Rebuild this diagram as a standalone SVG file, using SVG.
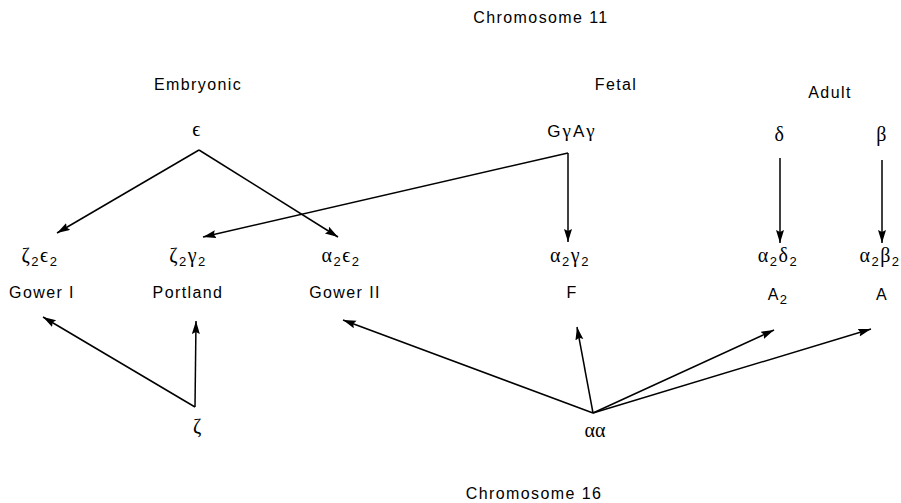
<svg xmlns="http://www.w3.org/2000/svg" width="901" height="503" viewBox="0 0 901 503">
  <style>
    .lbl { font-family: "Liberation Sans", Arial, sans-serif; font-size: 16px; letter-spacing: 1.4px; fill: #000; text-anchor: middle; }
    .gk { font-family: "Liberation Serif", "DejaVu Serif", serif; font-size: 20px; letter-spacing: 1.5px; fill: #000; text-anchor: middle; }
    .sub { font-family: "Liberation Sans", Arial, sans-serif; font-size: 13px; }
    .edge { stroke: #000; stroke-width: 1.5; fill: none; marker-end: url(#head); }
  </style>
  <defs>
    <marker id="head" markerUnits="userSpaceOnUse" markerWidth="14" markerHeight="10" refX="13" refY="4" orient="auto">
      <path d="M0,0 L13,4 L0,8 L2,4 Z" fill="#000"/>
    </marker>
  </defs>
  <rect width="901" height="503" fill="#fff"/>

  <!-- chromosome and stage headings -->
  <g id="chromosome-11"><text class="lbl" x="541" y="23">Chromosome 11</text></g>
  <g id="chromosome-16"><text class="lbl" x="534" y="499">Chromosome 16</text></g>
  <g id="stage-embryonic"><text class="lbl" x="198" y="90">Embryonic</text></g>
  <g id="stage-fetal"><text class="lbl" x="616" y="90">Fetal</text></g>
  <g id="stage-adult"><text class="lbl" x="830" y="98">Adult</text></g>

  <!-- globin genes -->
  <g id="gene-epsilon"><text class="gk" x="197" y="136">ϵ</text></g>
  <g id="gene-gamma"><text class="lbl" x="572" y="137" style="font-size:17px;letter-spacing:2px">G<tspan style="font-family:'Liberation Serif',serif;font-size:19px">γ</tspan>A<tspan style="font-family:'Liberation Serif',serif;font-size:19px">γ</tspan></text></g>
  <g id="gene-delta"><text class="gk" x="780" y="141">δ</text></g>
  <g id="gene-beta"><text class="gk" x="882" y="141">β</text></g>
  <g id="gene-zeta"><text class="gk" x="198" y="433">ζ</text></g>
  <g id="gene-alpha"><text class="gk" x="595" y="437" style="letter-spacing:0">αα</text></g>

  <!-- haemoglobin chains and names -->
  <g id="hb-gower1">
    <text class="gk" x="40" y="262">ζ<tspan class="sub" dy="4">2</tspan><tspan dy="-4">ϵ</tspan><tspan class="sub" dy="4">2</tspan></text>
    <text class="lbl" x="42" y="298">Gower I</text>
  </g>
  <g id="hb-portland">
    <text class="gk" x="188" y="262">ζ<tspan class="sub" dy="4">2</tspan><tspan dy="-4">γ</tspan><tspan class="sub" dy="4">2</tspan></text>
    <text class="lbl" x="188" y="298">Portland</text>
  </g>
  <g id="hb-gower2">
    <text class="gk" x="341" y="262">α<tspan class="sub" dy="4">2</tspan><tspan dy="-4">ϵ</tspan><tspan class="sub" dy="4">2</tspan></text>
    <text class="lbl" x="345" y="298">Gower II</text>
  </g>
  <g id="hb-f">
    <text class="gk" x="570" y="262">α<tspan class="sub" dy="4">2</tspan><tspan dy="-4">γ</tspan><tspan class="sub" dy="4">2</tspan></text>
    <text class="lbl" x="572" y="298">F</text>
  </g>
  <g id="hb-a2">
    <text class="gk" x="778" y="262">α<tspan class="sub" dy="4">2</tspan><tspan dy="-4">δ</tspan><tspan class="sub" dy="4">2</tspan></text>
    <text class="lbl" x="778" y="300">A<tspan class="sub" dy="4">2</tspan></text>
  </g>
  <g id="hb-a">
    <text class="gk" x="880" y="262">α<tspan class="sub" dy="4">2</tspan><tspan dy="-4">β</tspan><tspan class="sub" dy="4">2</tspan></text>
    <text class="lbl" x="882" y="300">A</text>
  </g>

  <!-- connectors -->
  <g id="connectors">
    <line class="edge" x1="199" y1="150" x2="57" y2="233"/>
    <line class="edge" x1="199" y1="150" x2="338" y2="237"/>
    <line class="edge" x1="568" y1="153" x2="203" y2="237"/>
    <line class="edge" x1="568" y1="153" x2="568" y2="242"/>
    <line class="edge" x1="780" y1="158" x2="780" y2="243"/>
    <line class="edge" x1="882" y1="160" x2="882" y2="243"/>
    <line class="edge" x1="195" y1="407" x2="43" y2="317"/>
    <line class="edge" x1="195" y1="407" x2="196" y2="321"/>
    <line class="edge" x1="593" y1="413" x2="343" y2="320"/>
    <line class="edge" x1="593" y1="413" x2="577" y2="327"/>
    <line class="edge" x1="593" y1="413" x2="774" y2="330"/>
    <line class="edge" x1="593" y1="413" x2="871" y2="329"/>
  </g>
</svg>
